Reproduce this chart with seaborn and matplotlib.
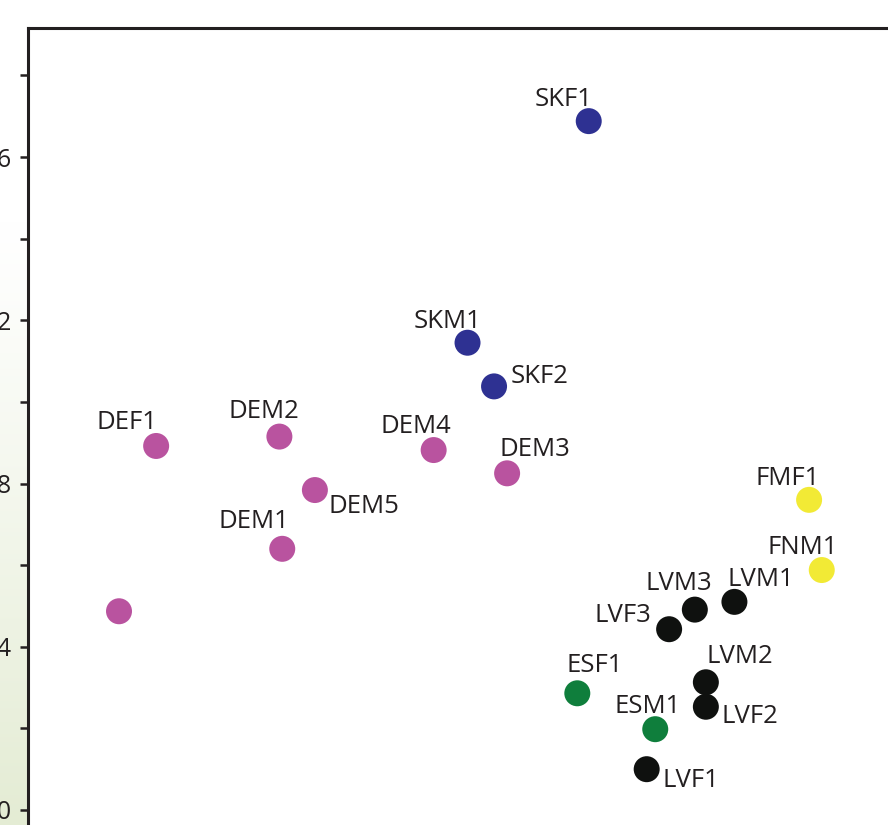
import numpy as np
import pandas as pd
import matplotlib
matplotlib.use("Agg")
import matplotlib.pyplot as plt
import seaborn as sns

# Sample scores on the two ordination axes
samples = ["SKF1", "SKM1", "SKF2",
           "DEF1", "DEM2", "DEM4", "DEM3", "DEM5", "DEM1", "",
           "FMF1", "FNM1",
           "LVM3", "LVM1", "LVF3", "LVM2", "LVF2", "LVF1",
           "ESF1", "ESM1"]
axis1 = [1.374, 1.077, 1.142,
         0.314, 0.616, 0.994, 1.174, 0.703, 0.623, 0.223,
         1.914, 1.945,
         1.634, 1.731, 1.571, 1.661, 1.661, 1.516,
         1.346, 1.537]
axis2 = [1.688, 1.145, 1.038,
         0.892, 0.915, 0.882, 0.825, 0.784, 0.640, 0.487,
         0.760, 0.588,
         0.491, 0.510, 0.443, 0.313, 0.253, 0.100,
         0.286, 0.198]
groups = ["SK", "SK", "SK",
          "DE", "DE", "DE", "DE", "DE", "DE", "DE",
          "FM", "FM",
          "LV", "LV", "LV", "LV", "LV", "LV",
          "ES", "ES"]

y_major = [0.0, 0.4, 0.8, 1.2, 1.6]
y_minor = [0.2, 0.6, 1.0, 1.4, 1.8]
y_labels = ["0.0", "0.4", "0.8", "1.2", "1.6"]

palette = {"SK": "#2e3192", "DE": "#b9539f", "FM": "#f2ea35",
           "LV": "#0f110f", "ES": "#0f7e3c"}

# label placement (pixel offset of the text's left/baseline from the marker centre)
label_offsets = {
    "SKF1": (-54, 15), "SKM1": (-54, 15), "SKF2": (17, 3),
    "DEF1": (-60, 17), "DEM2": (-51, 19), "DEM4": (-53, 17),
    "DEM3": (-8, 17), "DEM5": (14, -23), "DEM1": (-64, 21),
    "FMF1": (-54, 15), "FNM1": (-54, 16),
    "LVM3": (-49, 20), "LVM1": (-7, 16), "LVF3": (-75, 7),
    "LVM2": (1, 19), "LVF2": (16, -16), "LVF1": (16, -18),
    "ESF1": (-11, 21), "ESM1": (-41, 16),
}

df = pd.DataFrame({"sample": samples, "axis1": axis1,
                   "axis2": axis2, "group": groups})

sns.set_style("white")
plt.rcParams["font.family"] = ["Open Sans", "DejaVu Sans"]

W, H = 888, 825
fig = plt.figure(figsize=(W / 100, H / 100), dpi=100)

# soft green wash in the margin
bg = fig.add_axes([0, 0, 1, 1], zorder=-5)
rows = np.linspace(0, 1, 400)[:, None]
t = np.clip((rows - 0.27) / 0.73, 0, 1) ** 1.1
c0 = np.array([1.0, 1.0, 1.0])
c1 = np.array([228, 236, 212]) / 255
img = c0 + (c1 - c0) * t[..., None]
bg.imshow(img, aspect="auto", extent=[0, 1, 0, 1], origin="upper")
bg.set_axis_off()

px_per_unit = 408.1
left_px, top_px = 28, 28
right_px = 977
ymin = -0.1
ymax = (810 - top_px) / px_per_unit
bottom_px = 810 + (0 - ymin) * px_per_unit
ax = fig.add_axes([left_px / W, (H - bottom_px) / H,
                   (right_px - left_px) / W, (bottom_px - top_px) / H])
ax.set_facecolor("white")

sns.scatterplot(data=df, x="axis1", y="axis2", hue="group", palette=palette,
                s=350, edgecolor="none", linewidth=0, legend=False, ax=ax,
                zorder=3, clip_on=False)

for name, x, y in zip(samples, axis1, axis2):
    if not name:
        continue
    dx, dy = label_offsets[name]
    ax.annotate(name, (x, y), xytext=(dx, dy), textcoords="offset pixels",
                ha="left", va="baseline", fontsize=18.5, color="#231f20")

ax.set_xlim(0, (right_px - left_px) / px_per_unit)
ax.set_ylim(ymin, ymax)
ax.set_yticks(y_major)
ax.set_yticklabels(y_labels)
ax.set_yticks(y_minor, minor=True)
ax.set_xticks([])
ax.set_xlabel("")
ax.set_ylabel("")
for side in ["left", "top"]:
    ax.spines[side].set_color("#231f20")
    ax.spines[side].set_linewidth(2.2)
ax.spines["right"].set_visible(False)
ax.spines["bottom"].set_visible(False)
ax.tick_params(axis="y", which="both", direction="out", length=5.8, width=1.8,
               color="#231f20", pad=5.8, labelsize=18, labelcolor="#231f20",
               left=True)

fig.savefig("out.png", dpi=100)
